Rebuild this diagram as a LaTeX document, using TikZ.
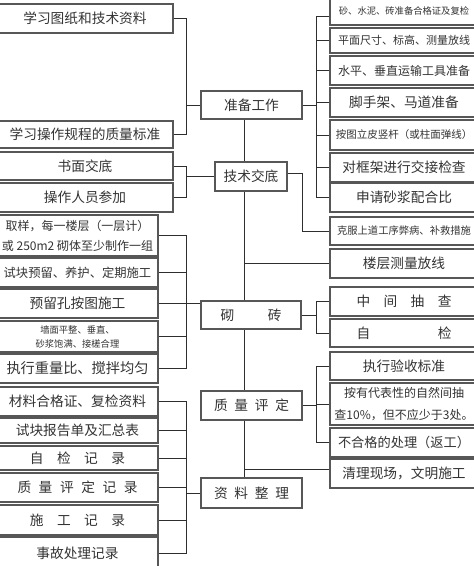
\documentclass[tikz,border=0pt]{standalone}
\usepackage{fontspec}
\setmainfont{Noto Sans CJK SC}
\usetikzlibrary{calc}
\newcommand\mybox[7]{\node[box,minimum width={(#4-#2)*1pt},minimum height={(#5-#3)*1pt},#6] (#1) at ({(#2+#4)/2},{(#3+#5)/2}) {#7};}
\newcommand\spc[2]{\makebox[#1pt]{#2}}
\begin{document}
\begin{tikzpicture}[x=1pt,y=-1pt,
  box/.style={draw=black!66, line width=1.4pt, fill=white, inner sep=0pt, align=center,
    font=\fontsize{13.7}{16}\selectfont, text=black!80},
  ln/.style={draw=black!82, line width=0.9pt}]
\useasboundingbox (0,0) rectangle (474,566);
\clip (0,0) rectangle (474,566);
\fill[white] (0,0) rectangle (474,566);

% ---- left column ----
\mybox{lA}{-3}{4}{173}{33}{}{学习图纸和技术资料}
\mybox{lB}{-3}{121}{173}{148}{}{学习操作规程的质量标准}
\mybox{lC}{-3}{152}{173}{180}{}{书面交底}
\mybox{lD}{-3}{183}{173}{212}{}{操作人员参加}
\mybox{lE}{-3}{215}{158}{256}{font=\fontsize{12}{20}\selectfont}{取样，每一楼层（一层计）\\或 250m2 砌体至少制作一组}
\mybox{lF}{-3}{258}{158}{287}{font=\fontsize{12.3}{15}\selectfont}{试块预留、养护、定期施工}
\mybox{lG}{-3}{289}{158}{318}{}{预留孔按图施工}
\mybox{lH}{-3}{321}{158}{352}{font=\fontsize{9.3}{14}\selectfont}{墙面平整、垂直、\\砂浆饱满、接槎合理}
\mybox{lI}{-3}{354}{158}{383}{font=\fontsize{14.2}{16}\selectfont}{执行重量比、搅拌均匀}
\mybox{lJ}{-3}{387}{158}{416}{}{材料合格证、复检资料}
\mybox{lK}{-3}{418}{158}{443}{}{试块报告单及汇总表}
\mybox{lL}{-3}{446}{158}{470}{}{\spc{95}{自\hfill 检\hfill 记\hfill 录}}
\mybox{lM}{-3}{473}{158}{502}{}{\spc{120}{质\hfill 量\hfill 评\hfill 定\hfill 记\hfill 录}}
\mybox{lN}{-3}{505}{158}{535}{}{\spc{95}{施\hfill 工\hfill 记\hfill 录}}
\mybox{lO}{-3}{537}{158}{570}{}{事故处理记录}

% ---- centre column ----
\mybox{zb}{201}{91}{302}{119}{}{准备工作}
\mybox{js}{215}{162}{287}{191}{}{技术交底}
\mybox{qz}{201}{301}{301}{329}{}{\spc{61}{砌\hfill 砖}}
\mybox{zl}{201}{391}{302}{420}{}{\spc{75}{质\hfill 量\hfill 评\hfill 定}}
\mybox{zj}{201}{478}{302}{508}{}{\spc{75}{资\hfill 料\hfill 整\hfill 理}}

% ---- right column ----
\mybox{rA}{330}{-3}{478}{25}{font=\fontsize{9.3}{11}\selectfont}{砂、水泥、砖准备合格证及复检}
\mybox{rB}{330}{28}{478}{53}{font=\fontsize{11}{13}\selectfont}{平面尺寸、标高、测量放线}
\mybox{rC}{330}{56}{478}{85}{font=\fontsize{12}{14}\selectfont}{水平、垂直运输工具准备}
\mybox{rD}{330}{88}{478}{117}{}{脚手架、马道准备}
\mybox{rE}{330}{120}{478}{150}{font=\fontsize{10.5}{12}\selectfont}{按图立皮竖杆（或柱面弹线）}
\mybox{rF}{330}{153}{478}{182}{}{对框架进行交接检查}
\mybox{rG}{330}{183}{478}{212}{}{申请砂浆配合比}
\mybox{rH}{330}{217}{478}{245}{font=\fontsize{10.3}{12}\selectfont}{克服上道工序弊病、补救措施}
\mybox{rI}{330}{249}{478}{278}{}{楼层测量放线}
\mybox{rJ}{330}{287}{478}{316}{}{\spc{95}{中\hfill 间\hfill 抽\hfill 查}}
\mybox{rK}{330}{319}{478}{347}{}{\spc{95}{自\hfill 检}}
\mybox{rL}{330}{352}{478}{380}{}{执行验收标准}
\mybox{rM}{330}{383}{478}{425}{font=\fontsize{12}{22}\selectfont}{按有代表性的自然间抽\\查10\%，但不应少于3处。}
\mybox{rN}{330}{428}{478}{457}{font=\fontsize{13.2}{15}\selectfont}{不合格的处理（返工）}
\mybox{rO}{330}{459}{478}{488}{}{清理现场，文明施工}

% ---- helper columns ----
\coordinate (b1) at (186,0);
\coordinate (sp) at (244,0);
\coordinate (r2) at (302,0);
\coordinate (r1) at (316,0);
\coordinate (rOp) at ([yshift=4pt]rO.west);
\coordinate (rAp) at ([yshift=-5pt]rA.west);
\coordinate (jsp) at ([yshift=3.5pt]js.east);

% left brackets
\draw[ln] (lA.east) -- (b1 |- lA.east) -- (b1 |- lB.east) -- (lB.east);
\draw[ln] (b1 |- zb.west) -- (zb.west);
\draw[ln] (lC.east) -- (b1 |- lC.east) -- (b1 |- lD.east) -- (lD.east);
\draw[ln] (b1 |- js.west) -- (js.west);
\draw[ln] (lE.east) -- (b1 |- lE.east) -- (b1 |- lI.east) -- (lI.east);
\foreach \n in {lF,lH} \draw[ln] (\n.east) -- (b1 |- \n.east);
\draw[ln] (lG.east) -- (qz.west |- lG.east);
\draw[ln] (lJ.east) -- (b1 |- lJ.east) -- (b1 |- lO.east) -- (lO.east);
\foreach \n in {lK,lL,lM,lN} \draw[ln] (\n.east) -- (b1 |- \n.east);
\draw[ln] (b1 |- zj.west) -- (zj.west);

% spine
\draw[ln] (sp |- zb.south) -- (sp |- js.north);
\draw[ln] (sp |- js.south) -- (sp |- qz.north);
\draw[ln] (sp |- qz.south) -- (sp |- zl.north);
\draw[ln] (sp |- zl.south) -- (sp |- zj.north);
\draw[ln] (sp |- rI.west) -- (rI.west);
\draw[ln] (sp |- rOp) -- (rOp);

% right brackets
\draw[ln] (zb.east) -- (r1 |- zb.east);
\draw[ln] (r1 |- rAp) -- (r1 |- rG.west);
\draw[ln] (rAp) -- (r1 |- rAp);
\foreach \n in {rB,rC,rD,rE,rF,rG} \draw[ln] (\n.west) -- (r1 |- \n.west);
\draw[ln] (jsp) -| (r2 |- rH.west) -- (rH.west);
\draw[ln] (qz.east) -- (r1 |- qz.east);
\draw[ln] (r1 |- rJ.west) -- (r1 |- rK.west);
\foreach \n in {rJ,rK} \draw[ln] (\n.west) -- (r1 |- \n.west);
\draw[ln] (zl.east) -- (r1 |- zl.east);
\draw[ln] (r1 |- rL.west) -- (r1 |- rN.west);
\foreach \n in {rL,rM,rN} \draw[ln] (\n.west) -- (r1 |- \n.west);
\end{tikzpicture}
\end{document}
